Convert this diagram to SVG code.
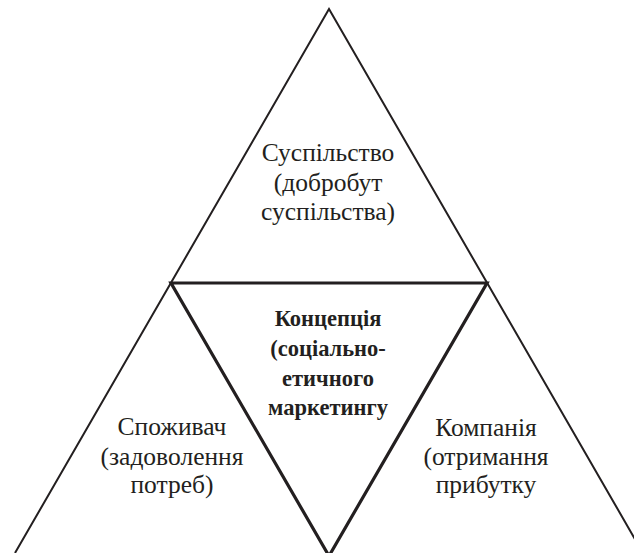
<svg xmlns="http://www.w3.org/2000/svg" width="634" height="553" viewBox="0 0 634 553">
<style>
.outer{fill:none;stroke:#231f20;stroke-width:2;stroke-linejoin:miter}
.inner{fill:none;stroke:#231f20;stroke-width:3.2;stroke-linejoin:miter}
.t{font-size:25.5px;fill:#231f20;text-anchor:middle}
.b{font-size:22.5px;font-weight:bold;fill:#231f20;text-anchor:middle}
</style>
<rect width="634" height="553" fill="#fff"/>
<g id="connectors">
<polyline class="outer" points="15,553 329,9 643,553"/>
<polygon class="inner" points="171,283 487,283 329,556"/>
</g>
<g font-family="Liberation Serif, DejaVu Serif, serif">
<g id="society">
<text class="t" x="328" y="161">Суспільство</text>
<text class="t" x="328" y="191">(добробут</text>
<text class="t" x="328" y="220">суспільства)</text>
</g>
<g id="concept">
<text class="b" x="328" y="326">Концепція</text>
<text class="b" x="328" y="356">(соціально-</text>
<text class="b" x="328" y="386">етичного</text>
<text class="b" x="328" y="415">маркетингу</text>
</g>
<g id="consumer">
<text class="t" x="172" y="435">Споживач</text>
<text class="t" x="172" y="465">(задоволення</text>
<text class="t" x="172" y="493">потреб)</text>
</g>
<g id="company">
<text class="t" x="486" y="436">Компанія</text>
<text class="t" x="486" y="465">(отримання</text>
<text class="t" x="486" y="493">прибутку</text>
</g>
</g>
</svg>
